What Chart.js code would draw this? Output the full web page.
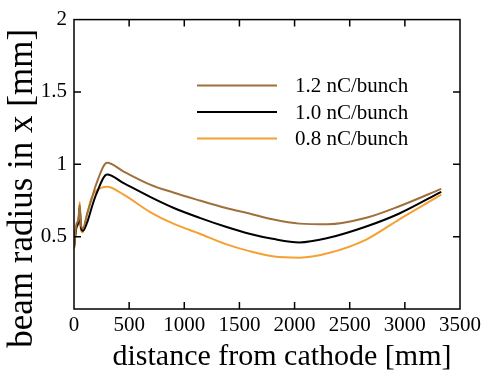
<!DOCTYPE html>
<html>
<head>
<meta charset="utf-8">
<script src="https://cdn.jsdelivr.net/npm/chart.js@4"></script>
<style>
  html, body { margin: 0; padding: 0; background: #fff; }
  #wrap { width: 485px; height: 373px; }
</style>
</head>
<body>
<div id="wrap"><canvas id="beamChart"></canvas></div>
<script>
// distance from cathode [mm]
const distance = [0, 20, 40, 52, 62, 80, 120, 160, 200, 300, 450, 690, 900, 1140, 1370, 1590, 1800, 2044, 2300, 2650, 2950, 3330];

// beam radius in x [mm]
const radius12 = [0.42, 0.58, 0.62, 0.72, 0.58, 0.56, 0.66, 0.76, 0.86, 1.01, 0.95, 0.86, 0.805, 0.75, 0.70, 0.66, 0.62, 0.59, 0.585, 0.63, 0.71, 0.83];
const radius10 = [0.42, 0.56, 0.60, 0.70, 0.57, 0.54, 0.60, 0.70, 0.79, 0.93, 0.87, 0.775, 0.70, 0.63, 0.57, 0.52, 0.485, 0.46, 0.49, 0.57, 0.66, 0.81];
const radius08 = [0.42, 0.55, 0.60, 0.74, 0.55, 0.53, 0.66, 0.77, 0.815, 0.845, 0.79, 0.67, 0.59, 0.52, 0.45, 0.40, 0.365, 0.355, 0.385, 0.48, 0.62, 0.79];

const seriesLabels = ['1.2 nC/bunch', '1.0 nC/bunch', '0.8 nC/bunch'];
const seriesColors = ['#a0703c', '#000000', '#f5a030'];

const xTicks = [0, 500, 1000, 1500, 2000, 2500, 3000, 3500];
const yTicks = [0, 0.5, 1, 1.5, 2];

const xTitle = 'distance from cathode [mm]';
const yTitle = 'beam radius in x [mm]';

const serif = "'Liberation Serif', 'Times New Roman', serif";

function toPoints(ys) {
    return distance.map((d, i) => ({ x: d, y: ys[i] }));
}

// frame, inward ticks on all four sides, axis titles and the legend
const decorPlugin = {
    id: 'decor',
    afterDraw(chart) {
        const ctx = chart.ctx;
        const a = chart.chartArea;
        const xs = chart.scales.x;
        const ys = chart.scales.y;
        const tick = 7;
        ctx.save();
        ctx.strokeStyle = '#000';
        ctx.lineWidth = 1.5;
        ctx.strokeRect(a.left, a.top, a.right - a.left, a.bottom - a.top);
        ctx.beginPath();
        xTicks.slice(1, -1).forEach(v => {
            const px = xs.getPixelForValue(v);
            ctx.moveTo(px, a.bottom); ctx.lineTo(px, a.bottom - tick);
            ctx.moveTo(px, a.top); ctx.lineTo(px, a.top + tick);
        });
        yTicks.slice(1, -1).forEach(v => {
            const py = ys.getPixelForValue(v);
            ctx.moveTo(a.left, py); ctx.lineTo(a.left + tick, py);
            ctx.moveTo(a.right, py); ctx.lineTo(a.right - tick, py);
        });
        ctx.stroke();

        // axis titles
        ctx.fillStyle = '#000';
        ctx.textAlign = 'center';
        ctx.textBaseline = 'middle';
        ctx.font = '30px ' + serif;
        ctx.fillText(xTitle, (a.left + a.right) / 2 + 15, a.bottom + 48);
        ctx.save();
        ctx.font = '35px ' + serif;
        ctx.translate(a.left - 51, (a.top + a.bottom) / 2 + 24);
        ctx.rotate(-Math.PI / 2);
        ctx.fillText(yTitle, 0, 0);
        ctx.restore();

        // legend
        ctx.font = '21px ' + serif;
        ctx.textAlign = 'left';
        chart.data.datasets.forEach((ds, i) => {
            const y = a.top + 66 + i * 26.5;
            ctx.strokeStyle = ds.borderColor;
            ctx.lineWidth = 2;
            ctx.beginPath();
            ctx.moveTo(a.left + 123, y);
            ctx.lineTo(a.left + 203, y);
            ctx.stroke();
            ctx.fillText(ds.label, a.left + 221, y + 1);
        });
        ctx.restore();
    }
};

const datasets = [radius12, radius10, radius08].map((ys, i) => ({
    label: seriesLabels[i],
    data: toPoints(ys),
    borderColor: seriesColors[i],
    borderWidth: 2,
    pointRadius: 0,
    fill: false,
    cubicInterpolationMode: 'monotone'
}));

new Chart(document.getElementById('beamChart'), {
    type: 'line',
    data: { datasets: datasets },
    options: {
        responsive: true,
        maintainAspectRatio: false,
        animation: false,
        layout: { padding: { top: 16, right: 24, left: 0, bottom: 0 } },
        plugins: {
            legend: { display: false },
            tooltip: { enabled: false }
        },
        scales: {
            x: {
                type: 'linear',
                min: 0,
                max: 3500,
                afterBuildTicks: s => { s.ticks = xTicks.map(v => ({ value: v })); },
                afterFit: s => { s.height = 64; },
                grid: { display: false, drawTicks: false },
                border: { display: false },
                ticks: {
                    autoSkip: false,
                    maxRotation: 0,
                    padding: 4,
                    color: '#000',
                    font: { family: serif, size: 21 },
                    callback: v => String(v)
                }
            },
            y: {
                min: 0,
                max: 2,
                afterBuildTicks: s => { s.ticks = yTicks.map(v => ({ value: v })); },
                afterFit: s => { s.width = 74; },
                grid: { display: false, drawTicks: false },
                border: { display: false },
                ticks: {
                    padding: 7,
                    color: '#000',
                    font: { family: serif, size: 21 },
                    callback: v => (v === 0 ? '' : String(v))
                }
            }
        }
    },
    plugins: [decorPlugin]
});
</script>
</body>
</html>
